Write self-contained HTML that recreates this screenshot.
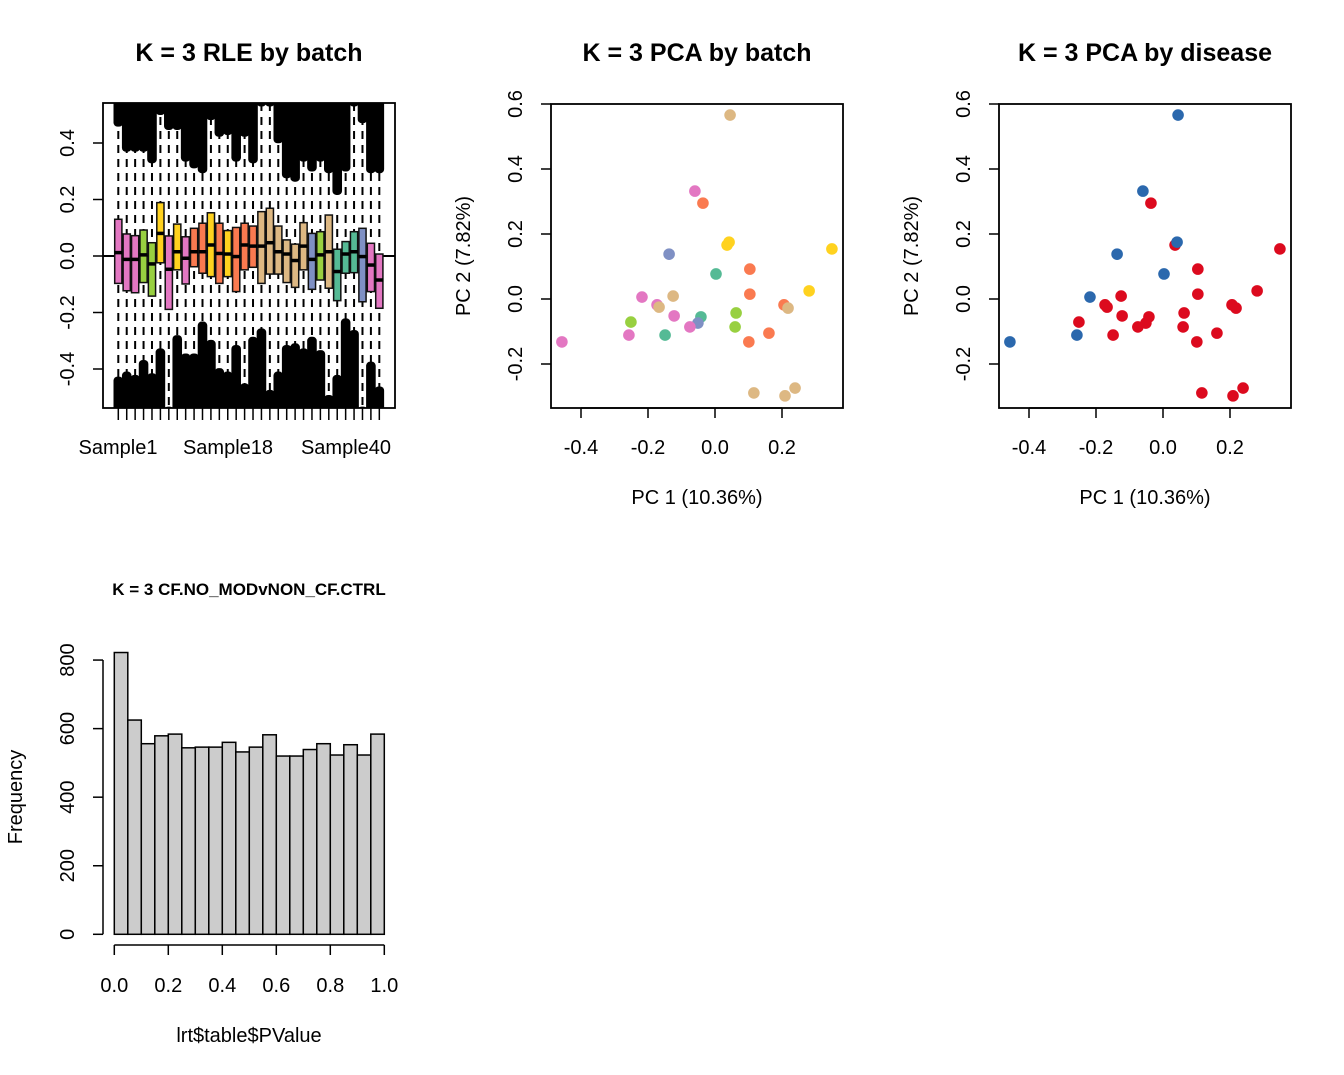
<!DOCTYPE html>
<html><head><meta charset="utf-8"><style>
body{margin:0;background:#fff}
svg{display:block;font-family:"Liberation Sans",Arial,sans-serif}
</style></head><body>
<svg id="s" width="1344" height="1075" viewBox="0 0 1344 1075">
<rect width="1344" height="1075" fill="#fff"/>
<text x="249" y="61" font-size="25" font-weight="bold" text-anchor="middle">K = 3 RLE by batch</text>
<text x="697" y="61" font-size="25" font-weight="bold" text-anchor="middle">K = 3 PCA by batch</text>
<text x="1145" y="61" font-size="25" font-weight="bold" text-anchor="middle">K = 3 PCA by disease</text>
<text x="249" y="595" font-size="17" font-weight="bold" text-anchor="middle">K = 3 CF.NO_MODvNON_CF.CTRL</text>
<g id="rle"></g>
<g id="pca1"></g>
<g id="pca2"></g>
<g id="hist"></g>
</svg>
<script>
// RLE data
const rleColors=["pink","pink","pink","green","green","yellow","pink","yellow","pink","orange","orange","yellow","orange","yellow","orange","orange","orange","tan","tan","tan","tan","tan","tan","blue","green","tan","teal","teal","teal","blue","pink","pink"];
const rleQ3=[.130,.078,.072,.092,.047,.189,.071,.113,.068,.098,.116,.153,.116,.090,.101,.116,.106,.157,.169,.106,.057,.042,.118,.080,.086,.145,.024,.051,.086,.098,.045,.007];
const rleQ1=[-.097,-.123,-.130,-.094,-.142,-.024,-.189,-.049,-.099,-.038,-.061,-.073,-.097,-.073,-.126,-.049,-.040,-.097,-.064,-.064,-.094,-.111,-.049,-.118,-.085,-.114,-.158,-.061,-.059,-.162,-.126,-.185];
const rleMed=[.012,-.012,-.012,.004,-.028,.080,-.047,.015,-.008,.015,.015,.039,.009,.007,-.002,.039,.035,.035,.047,.015,.007,-.016,.035,-.012,.004,.015,-.055,.007,.015,-.002,-.032,-.085];
const rleOutHi=[.458,.369,.369,.369,.328,.499,.446,.446,.334,.310,.293,.481,.422,.428,.334,.422,.328,.529,.529,.399,.275,.263,.334,.299,.334,.293,.216,.299,.529,.470,.293,.293];
const rleOutLo=[-.427,-.409,-.421,-.368,-.415,-.327,-.533,-.280,-.345,-.345,-.232,-.297,-.397,-.409,-.315,-.451,-.286,-.256,-.474,-.409,-.315,-.309,-.327,-.286,-.333,-.492,-.421,-.221,-.262,-.533,-.374,-.462];
const rleTicks=[0.4,0.2,0.0,-0.2,-0.4];
const rleXLabels=[["Sample1",118],["Sample18",228],["Sample40",346]];
// PCA data
const pcX=[0.045,-0.06,-0.036,0.036,0.042,0.349,-0.137,0.003,0.104,0.281,-0.218,-0.125,0.104,-0.173,-0.167,0.206,0.218,-0.122,-0.042,-0.051,-0.075,0.063,0.060,-0.251,-0.257,-0.149,0.101,0.161,-0.457,0.116,0.239,0.209];
const pcY=[0.566,0.332,0.295,0.166,0.175,0.154,0.138,0.077,0.092,0.025,0.006,0.009,0.015,-0.018,-0.025,-0.018,-0.028,-0.052,-0.055,-0.074,-0.086,-0.043,-0.086,-0.071,-0.111,-0.111,-0.132,-0.105,-0.132,-0.289,-0.274,-0.298];
const pcBatch=["tan","pink","orange","yellow","yellow","yellow","blue","teal","orange","yellow","pink","tan","orange","pink","tan","orange","tan","pink","teal","blue","pink","green","green","green","pink","teal","orange","orange","pink","tan","tan","tan"];
const pcDisease=["ctrl","ctrl","cf","cf","ctrl","cf","ctrl","ctrl","cf","cf","ctrl","cf","cf","cf","cf","cf","cf","cf","cf","cf","cf","cf","cf","cf","ctrl","cf","cf","cf","ctrl","cf","cf","cf"];
const pcXTicks=[-0.4,-0.2,0.0,0.2];
const pcYTicks=[0.6,0.4,0.2,0.0,-0.2];
// Histogram data
const histCounts=[822,625,556,579,584,544,546,546,560,532,546,582,520,520,539,556,523,553,523,584];
const histXTicks=[0,0.2,0.4,0.6,0.8,1.0];
const histYTicks=[0,200,400,600,800];

const pal={pink:"#E377C2",green:"#98D040",yellow:"#FFD21F",orange:"#FA7A50",tan:"#DDB883",blue:"#7F90C4",teal:"#55BA95",cf:"#DC0A1E",ctrl:"#2B68AD"};
const NS="http://www.w3.org/2000/svg";
function mk(p,t,a,txt){const e=document.createElementNS(NS,t);for(const k in a)e.setAttribute(k,a[k]);if(txt!==undefined)e.textContent=txt;p.appendChild(e);return e;}

// RLE
(function(){
const g=document.getElementById('rle');
const L=103,R=395,T=103,B=408;
const ys=v=>256-v*282.5;
const xs=i=>118.3+i*8.42;
const cp=mk(g,'clipPath',{id:'rc'});mk(cp,'rect',{x:L,y:T,width:R-L,height:B-T});
const inner=mk(g,'g',{'clip-path':'url(#rc)'});
for(let i=0;i<rleColors.length;i++){
 const x=xs(i);
 let e=mk(inner,'line',{x1:x,x2:x,y1:T,y2:B,stroke:'#000','stroke-width':2,'stroke-dasharray':'8 6'});
 
 e=mk(inner,'rect',{x:x-4.8,y:T-10,width:9.6,height:ys(rleOutHi[i])-T+10,rx:4,fill:'#000'});
 
 e=mk(inner,'rect',{x:x-4.8,y:ys(rleOutLo[i]),width:9.6,height:B-ys(rleOutLo[i])+10,rx:4,fill:'#000'});
 
}
mk(inner,'line',{x1:L,x2:R,y1:ys(0),y2:ys(0),stroke:'#000','stroke-width':2});
for(let i=0;i<rleColors.length;i++){
 const x=xs(i);
 let e=mk(inner,'rect',{x:x-3.6,y:ys(rleQ3[i]),width:7.2,height:ys(rleQ1[i])-ys(rleQ3[i]),fill:pal[rleColors[i]],stroke:'#111','stroke-width':1.5});
 
 mk(inner,'line',{x1:x-4,x2:x+4,y1:ys(rleMed[i]),y2:ys(rleMed[i]),stroke:'#000','stroke-width':3.5});
 mk(g,'line',{x1:x,x2:x,y1:B,y2:B+12,stroke:'#000','stroke-width':1.5});
}
mk(g,'rect',{x:L,y:T,width:R-L,height:B-T,fill:'none',stroke:'#000','stroke-width':1.8});
rleTicks.forEach(t=>{mk(g,'line',{x1:L,x2:L-10,y1:ys(t),y2:ys(t),stroke:'#000','stroke-width':1.5});
 const tx=mk(g,'text',{x:74,y:ys(t),'font-size':20,'text-anchor':'middle',transform:`rotate(-90 74 ${ys(t)})`},t.toFixed(1));
 });
rleXLabels.forEach(l=>{const tx=mk(g,'text',{x:l[1],y:454,'font-size':20,'text-anchor':'middle'},l[0]);
 });
})();

function pca(id,cols,ox){
 const g=document.getElementById(id);
 const L=551+ox,R=843+ox,T=104,B=408;
 const xs=v=>715+ox+v*335, ys=v=>299-v*325;
 mk(g,'rect',{x:L,y:T,width:R-L,height:B-T,fill:'none',stroke:'#000','stroke-width':1.8});
 pcXTicks.forEach(t=>{mk(g,'line',{x1:xs(t),x2:xs(t),y1:B,y2:B+10,stroke:'#000','stroke-width':1.5});
  const tx=mk(g,'text',{x:xs(t),y:454,'font-size':20,'text-anchor':'middle'},t.toFixed(1));
  });
 mk(g,'line',{x1:xs(-0.4),x2:xs(0.2),y1:B,y2:B,stroke:'#000','stroke-width':1.5});
 pcYTicks.forEach(t=>{mk(g,'line',{x1:L,x2:L-10,y1:ys(t),y2:ys(t),stroke:'#000','stroke-width':1.5});
  const tx=mk(g,'text',{x:522+ox,y:ys(t),'font-size':20,'text-anchor':'middle',transform:`rotate(-90 ${522+ox} ${ys(t)})`},t.toFixed(1));
  });
 let tx=mk(g,'text',{x:697+ox,y:504,'font-size':20,'text-anchor':'middle'},'PC 1 (10.36%)');
 
 tx=mk(g,'text',{x:470+ox,y:256,'font-size':20,'text-anchor':'middle',transform:`rotate(-90 ${470+ox} 256)`},'PC 2 (7.82%)');
 
 for(let i=0;i<pcX.length;i++){
  const c=mk(g,'circle',{cx:xs(pcX[i]),cy:ys(pcY[i]),r:5.8,fill:pal[cols[i]]});
  
 }
}
pca('pca1',pcBatch,0);
pca('pca2',pcDisease,448);

(function(){
 const g=document.getElementById('hist');
 const xs=v=>114.3+v*270, ys=v=>934.3-v*0.3428;
 histCounts.forEach((c,i)=>{const r=mk(g,'rect',{x:xs(i*0.05),y:ys(c),width:xs(0.05)-xs(0),height:ys(0)-ys(c),fill:'#CCCCCC',stroke:'#000','stroke-width':1.5});
  });
 mk(g,'line',{x1:xs(0),x2:xs(1),y1:945,y2:945,stroke:'#000','stroke-width':1.5});
 histXTicks.forEach(t=>{mk(g,'line',{x1:xs(t),x2:xs(t),y1:945,y2:955,stroke:'#000','stroke-width':1.5});
  const tx=mk(g,'text',{x:xs(t),y:992,'font-size':20,'text-anchor':'middle'},t.toFixed(1));
  });
 mk(g,'line',{x1:103,x2:103,y1:ys(0),y2:ys(800),stroke:'#000','stroke-width':1.5});
 histYTicks.forEach(t=>{mk(g,'line',{x1:103,x2:93,y1:ys(t),y2:ys(t),stroke:'#000','stroke-width':1.5});
  const tx=mk(g,'text',{x:74,y:ys(t),'font-size':20,'text-anchor':'middle',transform:`rotate(-90 74 ${ys(t)})`},String(t));
  });
 let tx=mk(g,'text',{x:249,y:1042,'font-size':20,'text-anchor':'middle'},'lrt$table$PValue');
 
 tx=mk(g,'text',{x:22,y:797,'font-size':20,'text-anchor':'middle',transform:'rotate(-90 22 797)'},'Frequency');
 
})();
</script>
</body></html>
